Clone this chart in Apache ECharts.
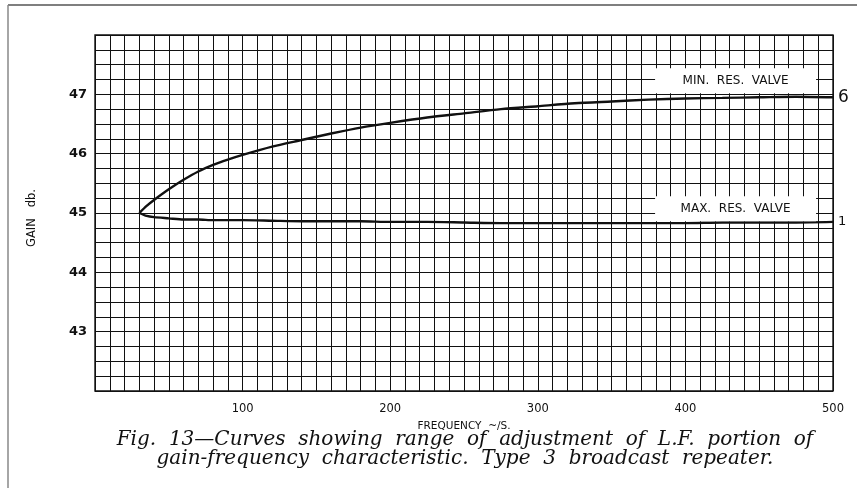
<!DOCTYPE html>
<html>
<head>
<meta charset="utf-8">
<script src="https://cdn.jsdelivr.net/npm/echarts@6/dist/echarts.min.js"></script>
<style>
  html, body { margin: 0; padding: 0; background: #fff; }
  #chart { width: 857px; height: 488px; }
</style>
</head>
<body>
<div id="chart"></div>
<script>
// Frequency points (c/s) shared by both curves
const freq = [30, 35, 40, 50, 60, 70, 80, 90, 100, 120, 140, 160, 180, 200, 225, 250, 275, 300, 325, 350, 375, 400, 425, 450, 475, 500];

// Gain (db.) with the resistance valve at minimum (curve 6)
const gainMinRes = [45.00, 45.12, 45.22, 45.40, 45.56, 45.70, 45.81, 45.90, 45.98, 46.12, 46.23, 46.34, 46.44, 46.52, 46.61, 46.68, 46.75, 46.80, 46.85, 46.88, 46.91, 46.93, 46.94, 46.95, 46.96, 46.95];

// Gain (db.) with the resistance valve at maximum (curve 1)
const gainMaxRes = [45.00, 44.95, 44.93, 44.91, 44.89, 44.89, 44.88, 44.88, 44.88, 44.87, 44.86, 44.86, 44.86, 44.85, 44.85, 44.84, 44.83, 44.83, 44.83, 44.83, 44.83, 44.83, 44.84, 44.84, 44.84, 44.85];

const seriesNames = ['MIN. RES. VALVE', 'MAX. RES. VALVE'];
const curveNumbers = ['6', '1'];

// Axis labels that are printed
const xTickLabels = [100, 200, 300, 400, 500];
const yTickLabels = [43, 44, 45, 46, 47];

const captionLines = [
  'Fig.  13\u2014Curves  showing  range  of  adjustment  of  L.F.  portion  of',
  'gain-frequency  characteristic.  Type  3  broadcast  repeater.'
];

function pairs(xs, ys) { return xs.map((x, i) => [x, ys[i]]); }

const ink = '#111';
const chart = echarts.init(document.getElementById('chart'), null, { renderer: 'canvas' });

function curve(name, gains, num, labelPos, numSize) {
  return {
    name: name,
    type: 'line',
    data: pairs(freq, gains),
    showSymbol: false,
    smooth: 0.25,
    lineStyle: { color: ink, width: 2.4 },
    endLabel: {
      show: true,
      formatter: () => num,
      color: ink,
      fontFamily: 'DejaVu Sans',
      fontSize: numSize,
      distance: 5
    },
    markPoint: {
      symbol: 'rect',
      symbolSize: [161, 25],
      itemStyle: { color: '#fff' },
      silent: true,
      label: {
        show: true,
        formatter: name.replace(/ /g, '  '),
        color: ink,
        fontFamily: 'DejaVu Sans',
        fontSize: 12
      },
      data: [{ coord: labelPos }]
    },
    z: 3
  };
}

const option = {
  animation: false,
  backgroundColor: '#fff',
  grid: {
    left: 95, right: 24, top: 35, bottom: 97,
    show: true, borderColor: ink, borderWidth: 1.4, backgroundColor: 'transparent'
  },
  xAxis: {
    type: 'value',
    min: 0, max: 500, interval: 10,
    name: 'FREQUENCY  ~/S.',
    nameLocation: 'middle',
    nameGap: 30,
    nameTextStyle: { color: ink, fontFamily: 'DejaVu Sans', fontSize: 10.5 },
    axisLine: { show: false },
    axisTick: { show: false },
    axisLabel: {
      color: ink, fontFamily: 'DejaVu Sans', fontSize: 11.5, margin: 12,
      formatter: v => (xTickLabels.includes(v) ? String(v) : '')
    },
    splitLine: { show: true, lineStyle: { color: ink, width: 1 } }
  },
  yAxis: {
    type: 'value',
    min: 42, max: 48, interval: 0.25,
    name: 'GAIN   db.',
    nameLocation: 'middle',
    nameGap: 57,
    nameTextStyle: { color: ink, fontFamily: 'DejaVu Sans', fontSize: 11.5, padding: [0, 10, 0, 0] },
    axisLine: { show: false },
    axisTick: { show: false },
    axisLabel: {
      color: ink, fontFamily: 'DejaVu Sans', fontSize: 13, fontWeight: 'bold', margin: 8,
      formatter: v => (yTickLabels.includes(v) ? String(v) : '')
    },
    splitLine: { show: true, lineStyle: { color: ink, width: 1 } }
  },
  series: [
    curve(seriesNames[0], gainMinRes, curveNumbers[0], [434, 47.23], 17),
    curve(seriesNames[1], gainMaxRes, curveNumbers[1], [434, 45.07], 13)
  ],
  graphic: [
    { type: 'line', shape: { x1: 8, y1: 5, x2: 857, y2: 5 }, style: { stroke: '#555', lineWidth: 1.5 } },
    { type: 'line', shape: { x1: 8, y1: 5, x2: 8, y2: 488 }, style: { stroke: '#888', lineWidth: 1.5 } },
    {
      type: 'text', x: 465, y: 430,
      style: {
        text: captionLines[0], fill: ink, textAlign: 'center',
        font: 'italic 20px "DejaVu Serif"'
      }
    },
    {
      type: 'text', x: 465, y: 449,
      style: {
        text: captionLines[1], fill: ink, textAlign: 'center',
        font: 'italic 20px "DejaVu Serif"'
      }
    }
  ]
};

chart.setOption(option);
</script>
</body>
</html>
